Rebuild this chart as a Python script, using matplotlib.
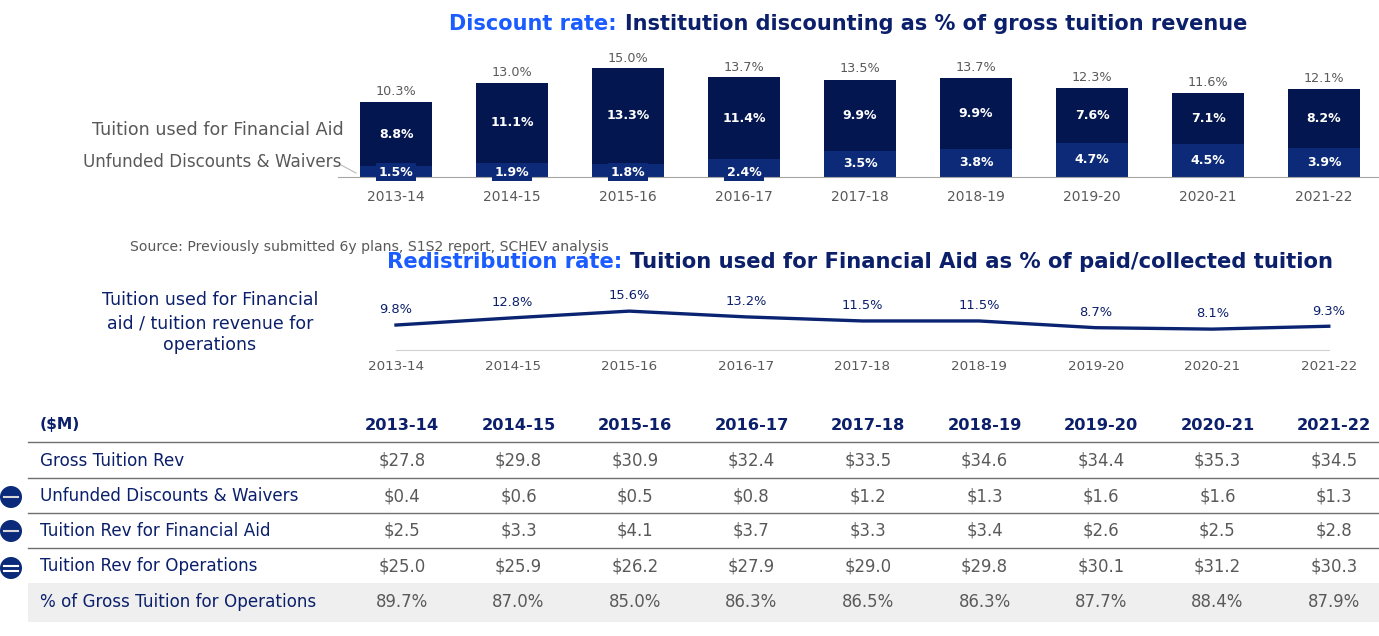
import matplotlib
matplotlib.use("Agg")
import matplotlib.pyplot as plt
from matplotlib.patches import Circle, Rectangle

plt.rcParams['font.family'] = ['DejaVu Sans']

# === Data ===
years = ["2013-14", "2014-15", "2015-16", "2016-17", "2017-18", "2018-19", "2019-20", "2020-21", "2021-22"]
unfunded = [1.5, 1.9, 1.8, 2.4, 3.5, 3.8, 4.7, 4.5, 3.9]
fin_aid = [8.8, 11.1, 13.3, 11.4, 9.9, 9.9, 7.6, 7.1, 8.2]
discount_total = [10.3, 13.0, 15.0, 13.7, 13.5, 13.7, 12.3, 11.6, 12.1]
redistribution = [9.8, 12.8, 15.6, 13.2, 11.5, 11.5, 8.7, 8.1, 9.3]

row_labels = ["Gross Tuition Rev", "Unfunded Discounts & Waivers", "Tuition Rev for Financial Aid",
              "Tuition Rev for Operations", "% of Gross Tuition for Operations"]
gross_rev = [27.8, 29.8, 30.9, 32.4, 33.5, 34.6, 34.4, 35.3, 34.5]
unfunded_rev = [0.4, 0.6, 0.5, 0.8, 1.2, 1.3, 1.6, 1.6, 1.3]
aid_rev = [2.5, 3.3, 4.1, 3.7, 3.3, 3.4, 2.6, 2.5, 2.8]
ops_rev = [25.0, 25.9, 26.2, 27.9, 29.0, 29.8, 30.1, 31.2, 30.3]
pct_ops = [89.7, 87.0, 85.0, 86.3, 86.5, 86.3, 87.7, 88.4, 87.9]

# === Colours ===
navy = "#0B1F6B"
dark_bar = "#04164F"
low_bar = "#0C2A78"
blue = "#1A5CFF"
gray = "#595959"

W, H = 1379, 636
fig = plt.figure(figsize=(W / 100, H / 100), dpi=100)


def px_axes(left, top, right, bottom):
    return fig.add_axes([left / W, 1 - bottom / H, (right - left) / W, (bottom - top) / H])


# === Overlay in pixel coordinates for titles and table ===
ov = fig.add_axes([0, 0, 1, 1])
ov.set_xlim(0, W)
ov.set_ylim(H, 0)
ov.axis("off")

t = ov.text(449, 24, "Discount rate:", color=blue, fontsize=15, fontweight="bold", va="center")
fig.canvas.draw()
end = t.get_window_extent().x1
ov.text(end + 8, 24, "Institution discounting as % of gross tuition revenue", color=navy,
        fontsize=15, fontweight="bold", va="center")
ov.text(130, 247, "Source: Previously submitted 6y plans, S1S2 report, SCHEV analysis", color=gray,
        fontsize=10.1, va="center")
t = ov.text(387, 262, "Redistribution rate:", color=blue, fontsize=15.25, fontweight="bold", va="center")
end = t.get_window_extent().x1
ov.text(end + 8, 262, "Tuition used for Financial Aid as % of paid/collected tuition", color=navy,
        fontsize=15.25, fontweight="bold", va="center")

ov.text(344, 130, "Tuition used for Financial Aid", color=gray, fontsize=12.6, ha="right", va="center")
ov.text(341, 162, "Unfunded Discounts & Waivers", color=gray, fontsize=12.1, ha="right", va="center")
ov.plot([341, 356], [165, 173], color="#BBBBBB", lw=0.8)
for y, line in zip([300, 323, 345], ["Tuition used for Financial", "aid / tuition revenue for", "operations"]):
    ov.text(210, y, line, color=navy, fontsize=12.5, ha="center", va="center")

# === Stacked bars ===
ax = px_axes(338, 40, W, 176.5)
x = list(range(len(years)))
ax.bar(x, unfunded, width=0.62, color=low_bar)
ax.bar(x, fin_aid, width=0.62, bottom=unfunded, color=dark_bar)
ax.set_xlim(-0.5, 8.474)
ax.set_ylim(0, 136.5 / 7.2)
for i in x:
    ax.text(i, discount_total[i] + 0.55, f"{discount_total[i]:.1f}%", color=gray, fontsize=9.2, ha="center", va="bottom")
    ax.text(i, unfunded[i] + fin_aid[i] / 2, f"{fin_aid[i]:.1f}%", color="white", fontsize=9,
            fontweight="bold", ha="center", va="center")
    if unfunded[i] < 3:
        # small labels sit in a box that hangs below the axis line
        ax.text(i, 0.6, f"{unfunded[i]:.1f}%", color="white", fontsize=9, fontweight="bold", ha="center",
                va="center", clip_on=False, bbox=dict(facecolor=low_bar, edgecolor="none", pad=1.8))
    else:
        ax.text(i, unfunded[i] / 2, f"{unfunded[i]:.1f}%", color="white", fontsize=9, fontweight="bold",
                ha="center", va="center")
ax.set_xticks(x)
ax.set_xticklabels(years, fontsize=10, color=gray)
ax.tick_params(axis="x", length=0, pad=10)
ax.set_yticks([])
for s in ["top", "left", "right"]:
    ax.spines[s].set_visible(False)
ax.spines["bottom"].set_color("#A6A6A6")
ax.patch.set_alpha(0)

# === Redistribution line ===
ax2 = px_axes(338, 285, W, 350)
ax2.plot(x, redistribution, color="#0A2472", lw=2.4)
ax2.set_xlim(-58 / 116.6, (W - 396) / 116.6)
ax2.set_ylim(-0.6, -0.6 + 65 / 2.4)
for i in x:
    ax2.text(i, redistribution[i] + 3.6, f"{redistribution[i]:.1f}%", color=navy, fontsize=9.4, ha="center", va="bottom",
             clip_on=False)
ax2.set_xticks(x)
ax2.set_xticklabels(years, fontsize=9.7, color=gray)
ax2.tick_params(axis="x", length=0, pad=7)
ax2.set_yticks([])
for s in ["top", "left", "right"]:
    ax2.spines[s].set_visible(False)
ax2.spines["bottom"].set_color("#D0D0D0")
ax2.spines["bottom"].set_bounds(0, 8)
ax2.patch.set_alpha(0)

# === Table ===
col_x = [402 + 116.5 * i for i in range(9)]
row_y = [461, 496, 531, 566, 602]
ov.add_patch(Rectangle((28, 583), W - 28, 39, facecolor="#EFEFEF", edgecolor="none"))
ov.text(40, 425, "($M)", color=navy, fontsize=11.2, fontweight="bold", va="center")
for cx, year in zip(col_x, years):
    ov.text(cx, 425, year, color=navy, fontsize=11.7, fontweight="bold", ha="center", va="center")
for y in [442, 478, 513, 548]:
    ov.plot([28, W], [y, y], color="#6E6E6E", lw=1)
rows = [[f"${v:.1f}" for v in gross_rev], [f"${v:.1f}" for v in unfunded_rev], [f"${v:.1f}" for v in aid_rev],
        [f"${v:.1f}" for v in ops_rev], [f"{v:.1f}%" for v in pct_ops]]
for y, label, vals in zip(row_y, row_labels, rows):
    ov.text(40, y, label, color=navy, fontsize=12.1, va="center")
    for cx, v in zip(col_x, vals):
        ov.text(cx, y, v, color=gray, fontsize=11.9, ha="center", va="center")

# minus / equals badges
for y, sign in zip([497, 531, 568], ["minus", "minus", "equals"]):
    ov.add_patch(Circle((11, y), 11, facecolor="#0B2A7A", edgecolor="none"))
    if sign == "minus":
        ov.plot([4, 18], [y, y], color="#D8D8D8", lw=1.5)
    else:
        ov.plot([4, 18], [y - 2.5, y - 2.5], color="white", lw=1.5)
        ov.plot([4, 18], [y + 2.5, y + 2.5], color="white", lw=1.5)

fig.savefig("out.png", dpi=100)
